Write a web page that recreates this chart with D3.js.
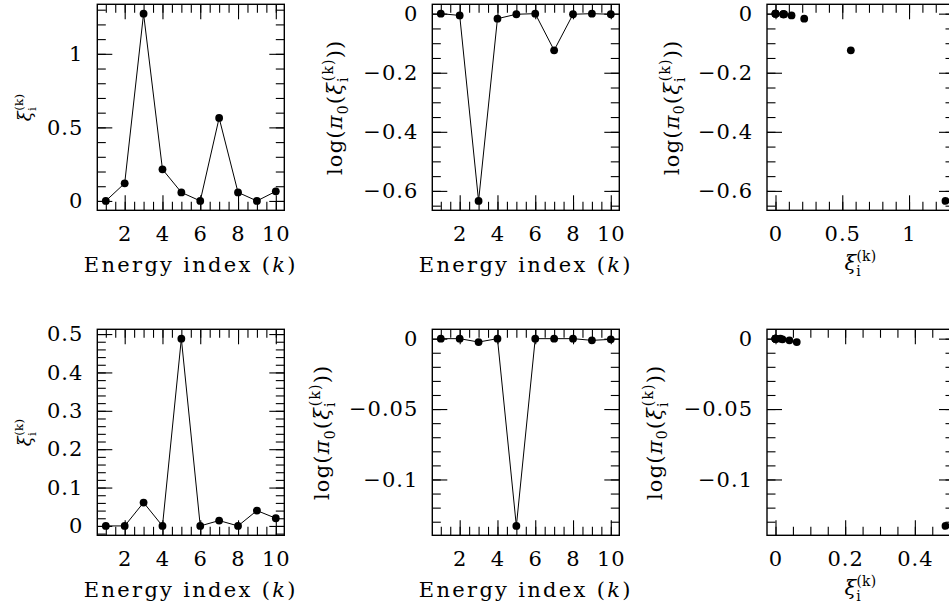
<!DOCTYPE html>
<html>
<head>
<meta charset="utf-8">
<script src="https://cdn.jsdelivr.net/npm/d3@7"></script>
<style>
  html, body { margin: 0; padding: 0; background: #fff; overflow: hidden; }
  #fig text { font-family: "DejaVu Serif", serif; }
</style>
</head>
<body>
<svg id="fig" width="949" height="609"></svg>
<script>
// Energy index k = 1..10
const energyIndex = [1, 2, 3, 4, 5, 6, 7, 8, 9, 10];

// Upper case: xi_i^(k) and log(pi_0(xi_i^(k)))
const xiUpper    = [0, 0.12, 1.273, 0.215, 0.058, 0, 0.564, 0.058, 0, 0.065];
const logPiUpper = [0, -0.006, -0.634, -0.017, -0.002, 0, -0.124, -0.002, 0, -0.002];

// Lower case
const xiLower    = [0, 0, 0.061, 0, 0.488, 0, 0.014, 0, 0.04, 0.02];
const logPiLower = [0, 0, -0.0024, 0, -0.133, 0, 0, 0, -0.0012, -0.0005];

// Major tick values for each axis
const energyTicks       = [2, 4, 6, 8, 10];
const xiUpperTicks      = [0, 0.5, 1];
const logPiUpperTicks   = [0, -0.2, -0.4, -0.6];
const xiLowerTicks      = [0, 0.1, 0.2, 0.3, 0.4, 0.5];
const logPiLowerTicks   = [0, -0.05, -0.1];
const xiLowerScatTicks  = [0, 0.2, 0.4];

const svg = d3.select("#fig");

const COLS = [97.3, 432.3, 767];
const ROWS = [4.3, 329.3];
const PW = 187, PH = 206;
const MAJOR = 15, MINOR = 8.5;
const TICK_FONT = 21;

const fmt = v => String(+v.toFixed(6)).replace("-", "\u2212");

// pad an extent by 5% on each side
function padded(values) {
  const [a, b] = d3.extent(values);
  const s = b - a;
  return [a - 0.05 * s, b + 0.05 * s];
}

function minorTicks(domain, step) {
  const a = Math.ceil(domain[0] / step - 1e-9);
  const b = Math.floor(domain[1] / step + 1e-9);
  return d3.range(a, b + 1).map(i => +(i * step).toFixed(8));
}

// xi_i^(k) with a stacked subscript and superscript
function xiParts(text, size) {
  const small = size * 0.66;
  text.append("tspan").attr("font-style", "italic").text("\u03BE");
  text.append("tspan").attr("font-size", small).attr("dy", size * 0.28).text("i");
  text.append("tspan").attr("font-size", small).attr("dx", -small * 0.34).attr("dy", -size * 0.72).text("(k)");
}

function xiLabel(text, size) { xiParts(text, size); }

function logPiLabel(text, size) {
  const small = size * 0.66;
  text.append("tspan").text("log(");
  text.append("tspan").attr("font-style", "italic").text("\u03C0");
  text.append("tspan").attr("font-size", small).attr("dy", size * 0.25).text("0");
  text.append("tspan").attr("dy", -size * 0.25).text("(");
  xiParts(text, size);
  text.append("tspan").attr("dy", size * 0.44).text("))");
}

function energyLabel(text) {
  text.append("tspan").text("Energy index (");
  text.append("tspan").attr("font-style", "italic").text("k");
  text.append("tspan").text(")");
}

function styleAxis(g, withLabels) {
  g.select(".domain").remove();
  g.selectAll(".tick line").attr("stroke", "#000").attr("stroke-width", 1.1);
  g.attr("font-family", null).attr("font-size", null);
  if (withLabels) {
    g.selectAll(".tick text")
      .attr("fill", "#000")
      .attr("font-size", TICK_FONT)
      .attr("letter-spacing", 1);
  } else {
    g.selectAll(".tick text").remove();
  }
}

function panel(cfg) {
  const x0 = cfg.x0, y0 = cfg.y0;
  const g = svg.append("g");
  const xs = d3.scaleLinear().domain(padded(cfg.xv)).range([x0, x0 + PW]);
  const ys = d3.scaleLinear().domain(padded(cfg.yv)).range([y0 + PH, y0]);

  const xMinor = minorTicks(xs.domain(), cfg.xMinor);
  const yMinor = minorTicks(ys.domain(), cfg.yMinor);

  // minor ticks on all four sides, pointing inward
  g.append("g").attr("transform", `translate(0,${y0 + PH})`)
    .call(d3.axisBottom(xs).tickValues(xMinor).tickSize(-MINOR)).call(a => styleAxis(a, false));
  g.append("g").attr("transform", `translate(0,${y0})`)
    .call(d3.axisTop(xs).tickValues(xMinor).tickSize(-MINOR)).call(a => styleAxis(a, false));
  g.append("g").attr("transform", `translate(${x0},0)`)
    .call(d3.axisLeft(ys).tickValues(yMinor).tickSize(-MINOR)).call(a => styleAxis(a, false));
  g.append("g").attr("transform", `translate(${x0 + PW},0)`)
    .call(d3.axisRight(ys).tickValues(yMinor).tickSize(-MINOR)).call(a => styleAxis(a, false));

  // major ticks, labelled on the bottom and left
  g.append("g").attr("transform", `translate(0,${y0 + PH})`)
    .call(d3.axisBottom(xs).tickValues(cfg.xTicks).tickSize(-MAJOR).tickPadding(16).tickFormat(fmt))
    .call(a => styleAxis(a, true));
  g.append("g").attr("transform", `translate(0,${y0})`)
    .call(d3.axisTop(xs).tickValues(cfg.xTicks).tickSize(-MAJOR)).call(a => styleAxis(a, false));
  g.append("g").attr("transform", `translate(${x0},0)`)
    .call(d3.axisLeft(ys).tickValues(cfg.yTicks).tickSize(-MAJOR).tickPadding(14).tickFormat(fmt))
    .call(a => styleAxis(a, true));
  g.append("g").attr("transform", `translate(${x0 + PW},0)`)
    .call(d3.axisRight(ys).tickValues(cfg.yTicks).tickSize(-MAJOR)).call(a => styleAxis(a, false));

  // frame
  g.append("rect")
    .attr("x", x0).attr("y", y0).attr("width", PW).attr("height", PH)
    .attr("fill", "none").attr("stroke", "#000").attr("stroke-width", 1.4);

  const pts = cfg.xv.map((x, i) => [x, cfg.yv[i]]);
  if (cfg.line) {
    g.append("path")
      .attr("d", d3.line().x(d => xs(d[0])).y(d => ys(d[1]))(pts))
      .attr("fill", "none").attr("stroke", "#000").attr("stroke-width", 1);
  }
  g.selectAll("circle.pt").data(pts).join("circle")
    .attr("class", "pt")
    .attr("cx", d => xs(d[0])).attr("cy", d => ys(d[1])).attr("r", 3.9)
    .attr("fill", "#000");

  // axis titles
  const cx = x0 + PW / 2, cy = y0 + PH / 2;
  const xt = g.append("text")
    .attr("x", cx).attr("y", y0 + PH + cfg.xTitleOffset)
    .attr("text-anchor", "middle")
    .attr("font-size", cfg.xTitleSize)
    .attr("letter-spacing", cfg.xTitleSpacing);
  cfg.xTitle(xt, cfg.xTitleSize);

  const yt = g.append("text")
    .attr("transform", `translate(${x0 - cfg.yTitleOffset},${cy}) rotate(-90)`)
    .attr("text-anchor", "middle")
    .attr("font-size", cfg.yTitleSize)
    .attr("letter-spacing", cfg.yTitleSpacing);
  cfg.yTitle(yt, cfg.yTitleSize);
}

const eTitle = { xTitle: t => energyLabel(t), xTitleSize: 21, xTitleSpacing: 2.3, xTitleOffset: 62 };
const xiXTitle = { xTitle: (t, s) => xiLabel(t, s), xTitleSize: 21, xTitleSpacing: 0.3, xTitleOffset: 60 };

// upper row
panel(Object.assign({
  x0: COLS[0], y0: ROWS[0], xv: energyIndex, yv: xiUpper, line: true,
  xTicks: energyTicks, xMinor: 0.5, yTicks: xiUpperTicks, yMinor: 0.1,
  yTitle: (t, s) => xiLabel(t, s), yTitleSize: 18, yTitleSpacing: 0.3, yTitleOffset: 66
}, eTitle));
panel(Object.assign({
  x0: COLS[1], y0: ROWS[0], xv: energyIndex, yv: logPiUpper, line: true,
  xTicks: energyTicks, xMinor: 0.5, yTicks: logPiUpperTicks, yMinor: 0.05,
  yTitle: (t, s) => logPiLabel(t, s), yTitleSize: 21, yTitleSpacing: 1.2, yTitleOffset: 90
}, eTitle));
panel(Object.assign({
  x0: COLS[2], y0: ROWS[0], xv: xiUpper, yv: logPiUpper, line: false,
  xTicks: xiUpperTicks, xMinor: 0.1, yTicks: logPiUpperTicks, yMinor: 0.05,
  yTitle: (t, s) => logPiLabel(t, s), yTitleSize: 21, yTitleSpacing: 1.2, yTitleOffset: 88
}, xiXTitle));

// lower row
panel(Object.assign({
  x0: COLS[0], y0: ROWS[1], xv: energyIndex, yv: xiLower, line: true,
  xTicks: energyTicks, xMinor: 0.5, yTicks: xiLowerTicks, yMinor: 0.02,
  yTitle: (t, s) => xiLabel(t, s), yTitleSize: 18, yTitleSpacing: 0.3, yTitleOffset: 66
}, eTitle));
panel(Object.assign({
  x0: COLS[1], y0: ROWS[1], xv: energyIndex, yv: logPiLower, line: true,
  xTicks: energyTicks, xMinor: 0.5, yTicks: logPiLowerTicks, yMinor: 0.01,
  yTitle: (t, s) => logPiLabel(t, s), yTitleSize: 21, yTitleSpacing: 1.2, yTitleOffset: 103
}, eTitle));
panel(Object.assign({
  x0: COLS[2], y0: ROWS[1], xv: xiLower, yv: logPiLower, line: false,
  xTicks: xiLowerScatTicks, xMinor: 0.05, yTicks: logPiLowerTicks, yMinor: 0.01,
  yTitle: (t, s) => logPiLabel(t, s), yTitleSize: 21, yTitleSpacing: 1.2, yTitleOffset: 105
}, xiXTitle));
</script>
</body>
</html>
